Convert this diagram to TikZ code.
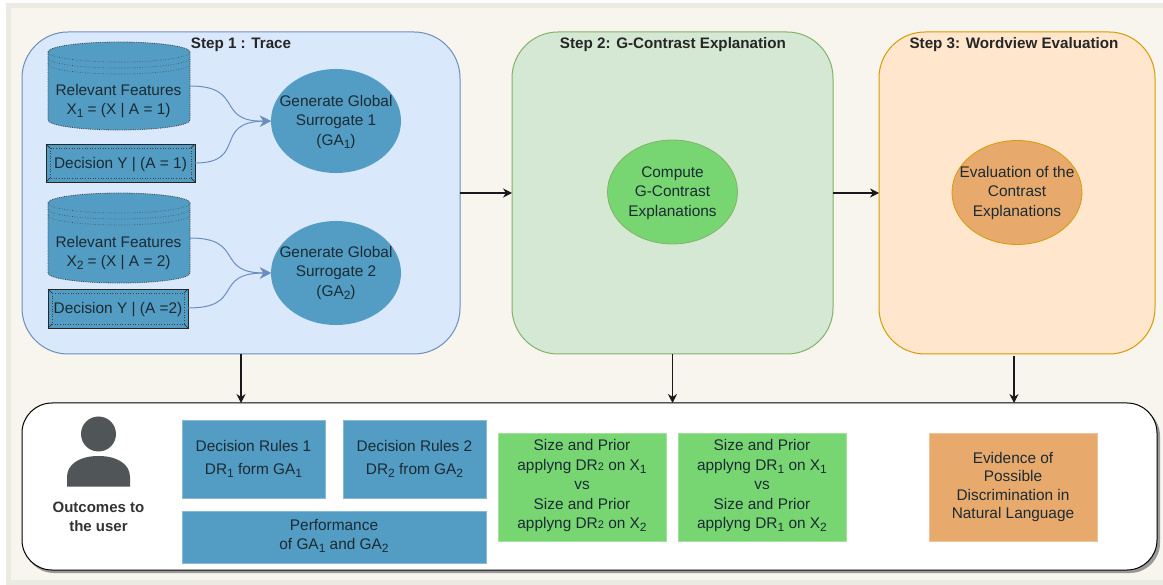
\documentclass[tikz,border=0pt]{standalone}
\usepackage{fontspec}
\setmainfont{Liberation Sans}
\usetikzlibrary{arrows.meta,shapes.geometric,calc}
\definecolor{bluefill}{HTML}{539CC3}
\definecolor{greenfill}{HTML}{77D672}
\definecolor{orangefill}{HTML}{E8A96C}
\definecolor{txt}{HTML}{1C2B33}
\definecolor{persongrey}{HTML}{505557}
\definecolor{pagebg}{HTML}{F8F5EE}
\definecolor{pageedge}{HTML}{ECEBE3}
\definecolor{linkblue}{HTML}{6C8EBF}
\newcommand{\sbs}[1]{\raisebox{-0.34ex}{\fontsize{12}{12}\selectfont #1}}
\newcommand{\inl}[1]{{\fontsize{11}{11}\selectfont #1}}
\newcommand{\cyldraw}[3]{% cx top bottom
  \path[cylshape] (#1-71,#2+10) arc[start angle=180,end angle=360,x radius=71,y radius=10]
    -- (#1+71,#3-10) arc[start angle=0,end angle=180,x radius=71,y radius=10] -- cycle;
  \draw[cylline] (#1-71,#2+10) arc[start angle=180,end angle=0,x radius=71,y radius=10];
  \draw[cylline] (#1-71,#2+16) arc[start angle=180,end angle=0,x radius=71,y radius=10];
  \draw[cylline] (#1-71,#2+22) arc[start angle=180,end angle=0,x radius=71,y radius=10];
}
\newcommand{\procdraw}[4]{% x1 y1 x2 y2
  \draw[black!85,line width=0.9pt,fill=bluefill] (#1,#2) rectangle (#3,#4);
  \draw[cylline] (#1+4,#2+4) rectangle (#3-4,#4-4);
  \draw[black!85,line width=0.6pt] (#1,#2) -- (#1+4,#2+4) (#3,#2) -- (#3-4,#2+4) (#1,#4) -- (#1+4,#4-4) (#3,#4) -- (#3-4,#4-4);
}
\tikzset{
  x=1pt,y=-1pt,
  base/.style={inner sep=0pt,outer sep=0pt,align=center,font=\fontsize{15.4}{19.5}\selectfont,text=txt},
  stepbox/.style={base,rectangle,rounded corners=46pt,line width=1pt},
  cylshape/.style={fill=bluefill,draw=black!75,densely dotted,line width=0.8pt},
  cylline/.style={draw=black!75,dotted,line width=0.6pt},
  blob/.style={base,ellipse,minimum width=130pt,minimum height=104pt,line width=0.8pt},
  flat/.style={base,rectangle,line width=0.8pt},
  bluebox/.style={flat,fill=bluefill,draw=bluefill!70!white},
  greenbox/.style={flat,fill=greenfill,draw=greenfill!70!white,minimum width=168pt,minimum height=108pt},
  orangebox/.style={flat,fill=orangefill,draw=orangefill!70!white,minimum width=168pt,minimum height=108pt},
  title/.style={base,font=\bfseries\fontsize{15.2}{16}\selectfont,text=black!85},
  flow/.style={-{Stealth[length=9pt,width=9pt]},line width=1.1pt,black!90},
  curve/.style={-{Stealth[length=11pt,width=11pt]},line width=1pt,color=linkblue},
}
\begin{document}
\begin{tikzpicture}
\useasboundingbox (0,0) rectangle (1163,585);
\fill[white] (0,0) rectangle (1163,585);
\fill[pageedge] (6,3) rectangle (1163,585);
\fill[pagebg] (11,8) rectangle (1163,580);
% step containers
\node[stepbox,fill={rgb,255:red,218;green,232;blue,252},draw=linkblue,minimum width=438pt,minimum height=322pt] (s1) at (241,193) {};
\node[stepbox,fill={rgb,255:red,213;green,232;blue,212},draw={rgb,255:red,130;green,179;blue,102},minimum width=321pt,minimum height=322pt] (s2) at (672.5,193) {};
\node[stepbox,fill={rgb,255:red,255;green,230;blue,204},draw={rgb,255:red,215;green,155;blue,0},minimum width=276pt,minimum height=322pt] (s3) at (1017,193) {};
\node[title] (t1) at (241,45) {Step 1 : Trace};
\node[title] (t2) at (673,45) {Step 2: G-Contrast Explanation};
\node[title] (t3) at (1014,45) {Step 3: Wordview Evaluation};
% cylinders
\cyldraw{119}{42}{130}
\cyldraw{119}{193}{283}
\node[base,minimum width=142pt,minimum height=88pt] (c1) at (119,86) {};
\node[base,minimum width=142pt,minimum height=90pt] (c2) at (119,238) {};
\node[base] (c1t) at (118.5,101) {Relevant Features\\X\sbs{1} = (X | A = 1)};
\node[base] (c2t) at (118.5,253) {Relevant Features\\X\sbs{2} = (X | A = 2)};
% decision boxes
\procdraw{46}{144}{195}{182}
\procdraw{48}{289}{188}{328}
\node[base,minimum width=149pt,minimum height=38pt] (d1) at (120.5,164.5) {Decision Y | (A = 1)};
\node[base,minimum width=140pt,minimum height=39pt] (d2) at (118,309.5) {Decision Y | (A =2)};
% ellipses
\node[blob,fill=bluefill] (g1) at (336,121) {};
\node[base] (g1t) at (336,122) {Generate Global\\Surrogate 1\\(GA\sbs{1})};
\node[blob,fill=bluefill] (g2) at (336,273) {};
\node[base] (g2t) at (336,273) {Generate Global\\Surrogate 2\\(GA\sbs{2})};
\node[blob,fill=greenfill,draw={rgb,255:red,130;green,179;blue,102}] (g3) at (672.5,192) {};
\node[base] (g3t) at (672.5,193) {Compute\\G-Contrast\\Explanations};
\node[blob,fill=orangefill,draw={rgb,255:red,215;green,155;blue,0}] (g4) at (1017,192.5) {};
\node[base] (g4t) at (1017,193) {Evaluation of the\\Contrast\\Explanations};
% merge curves
\draw[curve] (c1.east) .. controls (245,86) and (215,122) .. (g1.west);
\draw[curve] (d1.east |- 0,163) .. controls (248,163) and (212,122) .. (g1.west);
\draw[curve] (c2.east) .. controls (245,238) and (215,273) .. (g2.west);
\draw[curve] (d2.east |- 0,308) .. controls (245,308) and (212,273) .. (g2.west);
% outcomes panel
\fill[black!40,rounded corners=30pt] (24,406) rectangle (1160,573);
\node[base,rectangle,rounded corners=30pt,fill=white,draw=black,line width=1pt,minimum width=1135pt,minimum height=167pt] (out) at (589.5,486.5) {};
% flow arrows
\draw[flow] (s1.east) -- (s2.west);
\draw[flow] (s2.east) -- (s3.west);
\draw[flow] (s1.south -| 241,354) -- (241,403);
\draw[flow] (s2.south) -- (out.north -| s2.south);
\coordinate (s3b) at (1014,356);
\draw[flow] (s3b) -- (out.north -| s3b);
% person
\fill[persongrey] (98.5,434) circle[radius=17.5];
\fill[persongrey] (67,486.5) -- (67,477) .. controls (67,464) and (80,456) .. (98.5,456) .. controls (117,456) and (130,464) .. (130,477) -- (130,486.5) -- cycle;
\node[base,font=\bfseries\fontsize{15}{19}\selectfont,text=black!80] (who) at (98.5,516.5) {Outcomes to\\the user};
% result boxes
\node[bluebox,minimum width=143pt,minimum height=78pt,font=\fontsize{15.4}{23}\selectfont] (r1) at (253.5,459) {Decision Rules 1\\DR\sbs{1} form GA\sbs{1}};
\node[bluebox,minimum width=143pt,minimum height=78pt,font=\fontsize{15.4}{23}\selectfont] (r2) at (414.5,459) {Decision Rules 2\\DR\sbs{2} from GA\sbs{2}};
\node[bluebox,minimum width=304pt,minimum height=52pt] (r3) at (334,537) {};
\node[base] (r3t) at (334,536) {Performance\\of GA\sbs{1} and GA\sbs{2}};
\node[greenbox] (v1) at (582,487) {};
\node[base] (v1t) at (582,486) {Size and Prior\\applyng DR\inl{2} on X\sbs{1}\\vs\\Size and Prior\\applyng DR\inl{2} on X\sbs{2}};
\node[greenbox] (v2) at (762,487) {};
\node[base] (v2t) at (762,486) {Size and Prior\\applyng DR\sbs{1} on X\sbs{1}\\vs\\Size and Prior\\applyng DR\sbs{1} on X\sbs{2}};
\node[orangebox] (e) at (1013,487) {};
\node[base,font=\fontsize{15.4}{18.5}\selectfont] (et) at (1013,487) {Evidence of\\Possible\\Discrimination in\\Natural Language};
\end{tikzpicture}
\end{document}
